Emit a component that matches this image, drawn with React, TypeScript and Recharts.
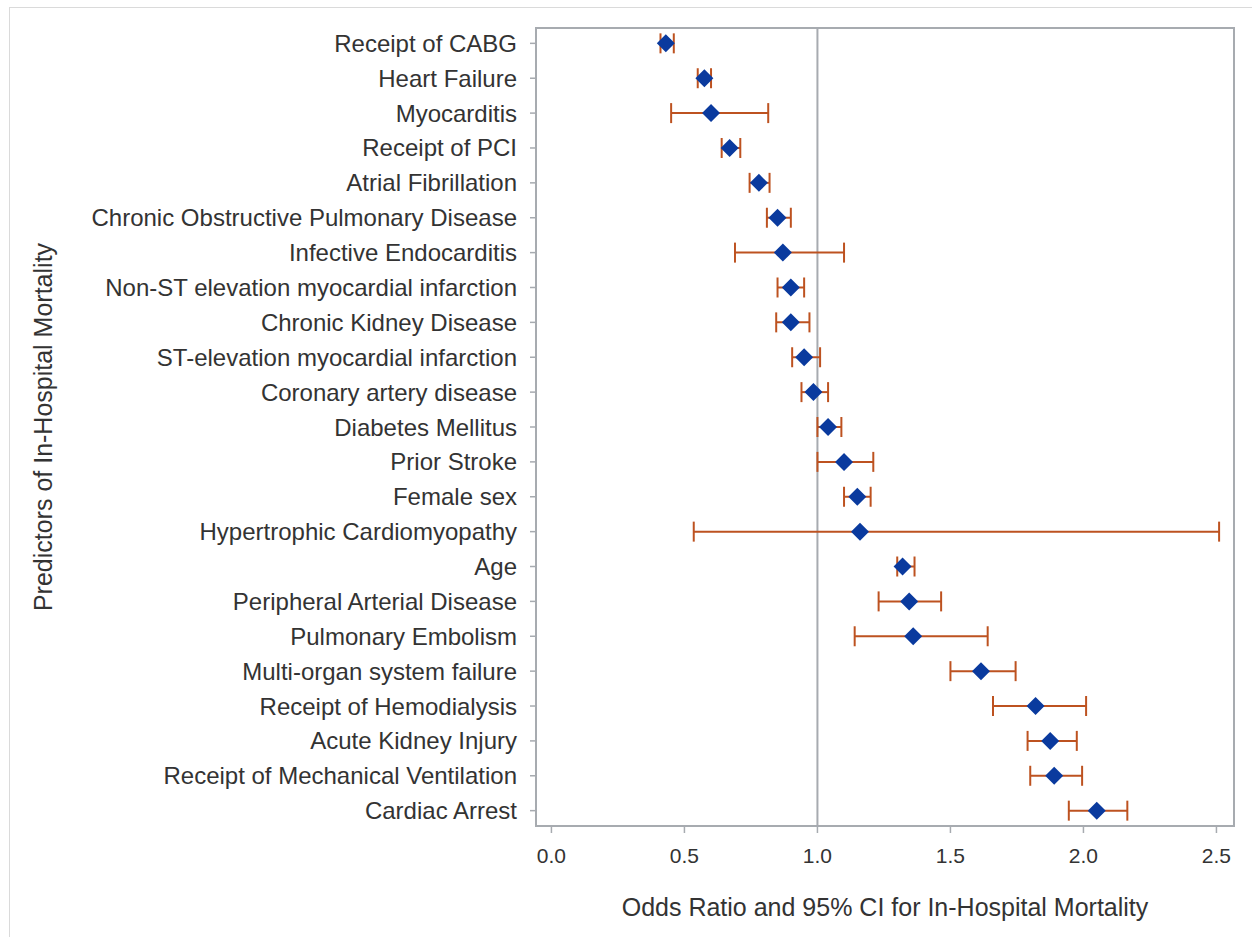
import { ScatterChart, Scatter, XAxis, YAxis, ErrorBar, ReferenceLine, ReferenceArea } from 'recharts'

const predictors = [
  'Receipt of CABG',
  'Heart Failure',
  'Myocarditis',
  'Receipt of PCI',
  'Atrial Fibrillation',
  'Chronic Obstructive Pulmonary Disease',
  'Infective Endocarditis',
  'Non-ST elevation myocardial infarction',
  'Chronic Kidney Disease',
  'ST-elevation myocardial infarction',
  'Coronary artery disease',
  'Diabetes Mellitus',
  'Prior Stroke',
  'Female sex',
  'Hypertrophic Cardiomyopathy',
  'Age',
  'Peripheral Arterial Disease',
  'Pulmonary Embolism',
  'Multi-organ system failure',
  'Receipt of Hemodialysis',
  'Acute Kidney Injury',
  'Receipt of Mechanical Ventilation',
  'Cardiac Arrest',
]

const oddsRatio = [0.43, 0.575, 0.6, 0.67, 0.78, 0.85, 0.87, 0.9, 0.9, 0.95, 0.985, 1.04, 1.1, 1.15, 1.16, 1.32, 1.345, 1.36, 1.615, 1.82, 1.875, 1.89, 2.05]
const ciLow = [0.41, 0.55, 0.45, 0.64, 0.745, 0.81, 0.69, 0.85, 0.845, 0.905, 0.94, 1.0, 1.0, 1.1, 0.535, 1.3, 1.23, 1.14, 1.5, 1.66, 1.79, 1.8, 1.945]
const ciHigh = [0.46, 0.6, 0.815, 0.71, 0.82, 0.9, 1.1, 0.95, 0.97, 1.01, 1.04, 1.09, 1.21, 1.2, 2.51, 1.365, 1.465, 1.64, 1.745, 2.01, 1.975, 1.995, 2.165]

const xTicks = [0, 0.5, 1, 1.5, 2, 2.5]

const COLORS = {
  marker: '#0a3a9e',
  error: '#bd5220',
  frame: '#a7abb0',
  text: '#333',
}

const FONT = '"Liberation Sans", Arial, sans-serif'

const X_DOMAIN: [number, number] = [-0.058, 2.566]
const Y_DOMAIN: [number, number] = [0.56, 23.44]

function Diamond(props: any) {
  const { cx, cy } = props
  const r = 9
  return <polygon points={`${cx},${cy - r} ${cx + r},${cy} ${cx},${cy + r} ${cx - r},${cy}`} fill={COLORS.marker} />
}

export default function App() {
  const data = predictors.map((name, i) => ({
    row: i + 1,
    name,
    or: oddsRatio[i],
    err: [oddsRatio[i] - ciLow[i], ciHigh[i] - oddsRatio[i]],
  }))

  return (
    <div style={{ position: 'absolute', left: 0, top: 0, width: 1252, height: 937, overflow: 'hidden', background: '#fff', fontFamily: FONT }}>
      <div style={{ position: 'absolute', left: 9, top: 7, width: 1260, height: 960, border: '1px solid #dadada' }} />
      <div style={{ position: 'absolute', left: 0, top: 0 }}>
        <ScatterChart width={1252} height={937} margin={{ top: 28, right: 18, left: 0, bottom: 0 }}>
          <XAxis
            type="number"
            dataKey="or"
            domain={X_DOMAIN}
            allowDataOverflow
            ticks={xTicks}
            tickFormatter={(v: number) => v.toFixed(1)}
            axisLine={false}
            tickLine={{ stroke: COLORS.frame, strokeWidth: 1.5 }}
            tickSize={7}
            tickMargin={15}
            height={111}
            tick={{ fill: COLORS.text, fontSize: 21, fontFamily: FONT }}
            label={{ value: 'Odds Ratio and 95% CI for In-Hospital Mortality', position: 'insideBottom', offset: 21, fill: COLORS.text, fontSize: 25, fontFamily: FONT }}
          />
          <YAxis
            type="number"
            dataKey="row"
            domain={Y_DOMAIN}
            allowDataOverflow
            reversed
            ticks={data.map((d) => d.row)}
            interval={0}
            tickFormatter={(v: number) => predictors[v - 1]}
            axisLine={false}
            tickLine={{ stroke: COLORS.frame, strokeWidth: 1.5 }}
            tickSize={6}
            tickMargin={13}
            width={536}
            tick={{ fill: COLORS.text, fontSize: 24, fontFamily: FONT }}
            label={{ value: 'Predictors of In-Hospital Mortality', angle: -90, position: 'insideLeft', offset: 43, fill: COLORS.text, fontSize: 25, fontFamily: FONT, style: { textAnchor: 'middle' } }}
          />
          <ReferenceArea x1={X_DOMAIN[0]} x2={X_DOMAIN[1]} y1={Y_DOMAIN[0]} y2={Y_DOMAIN[1]} fill="none" stroke={COLORS.frame} strokeWidth={2} ifOverflow="visible" />
          <ReferenceLine x={1} stroke={COLORS.frame} strokeWidth={2} />
          <Scatter data={data} shape={<Diamond />} isAnimationActive={false}>
            <ErrorBar dataKey="err" direction="x" width={10} stroke={COLORS.error} strokeWidth={2} isAnimationActive={false} />
          </Scatter>
        </ScatterChart>
      </div>
    </div>
  )
}
